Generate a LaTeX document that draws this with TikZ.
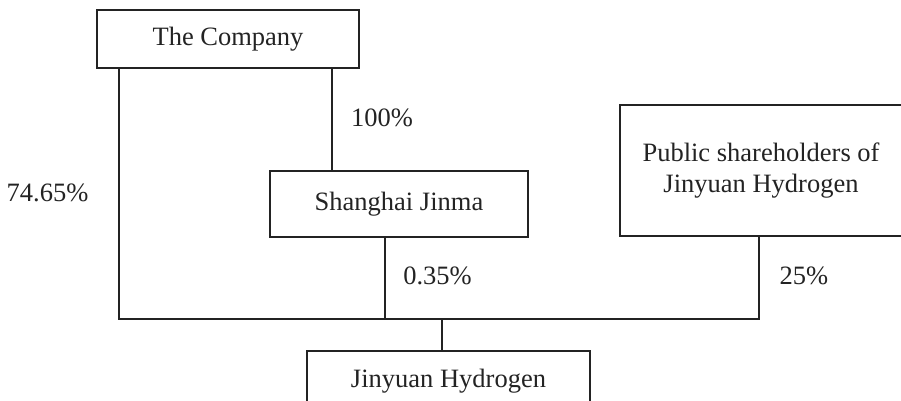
\documentclass[tikz,border=0pt]{standalone}
\usepackage{fontspec}
\setmainfont{Liberation Serif}
\definecolor{ink}{RGB}{35,35,35}
\begin{document}
\begin{tikzpicture}[x=1pt,y=-1pt,
  box/.style={draw=ink, line width=1.2pt, text=ink, inner sep=0pt, align=center,
    font=\fontsize{26.5}{31.8}\selectfont},
  lab/.style={text=ink, inner sep=0pt, anchor=base, font=\fontsize{26.5}{31.8}\selectfont},
  conn/.style={draw=ink, line width=1.2pt}]
\useasboundingbox (0,0) rectangle (901,401);
\node[box, minimum width=262pt, minimum height=58pt] (company) at (228,39) {The Company};
\node[box, minimum width=258pt, minimum height=66pt] (jinma) at (399,204) {Shanghai Jinma};
\node[box, minimum width=282pt, minimum height=131pt] (public) at (761,170.5) {Public shareholders of\\Jinyuan Hydrogen};
\node[box, minimum width=283pt, minimum height=60pt] (jinyuan) at (448.5,381) {Jinyuan Hydrogen};
\coordinate (busL) at (119,319);
\coordinate (ct) at ([xshift=104pt]company.south);
\coordinate (jn) at ([xshift=-67pt]jinma.north);
\coordinate (jb) at ([xshift=-14pt]jinma.south);
\coordinate (pb) at ([xshift=-2pt]public.south);
\coordinate (jt) at ([xshift=-6.5pt]jinyuan.north);
\coordinate (busR) at (pb |- busL);
\draw[conn] (company.south -| busL) -- (busL) -- (busR) -- (pb);
\draw[conn] (ct) -- (jn);
\draw[conn] (jb) -- (jb |- busL);
\draw[conn] (jt |- busL) -- (jt);
\node[lab] (l100) at (382,126.5) {100\%};
\node[lab] (l7465) at (47.5,201.5) {74.65\%};
\node[lab] (l035) at (437.5,284.5) {0.35\%};
\node[lab] (l25) at (804,284) {25\%};
\end{tikzpicture}
\end{document}
